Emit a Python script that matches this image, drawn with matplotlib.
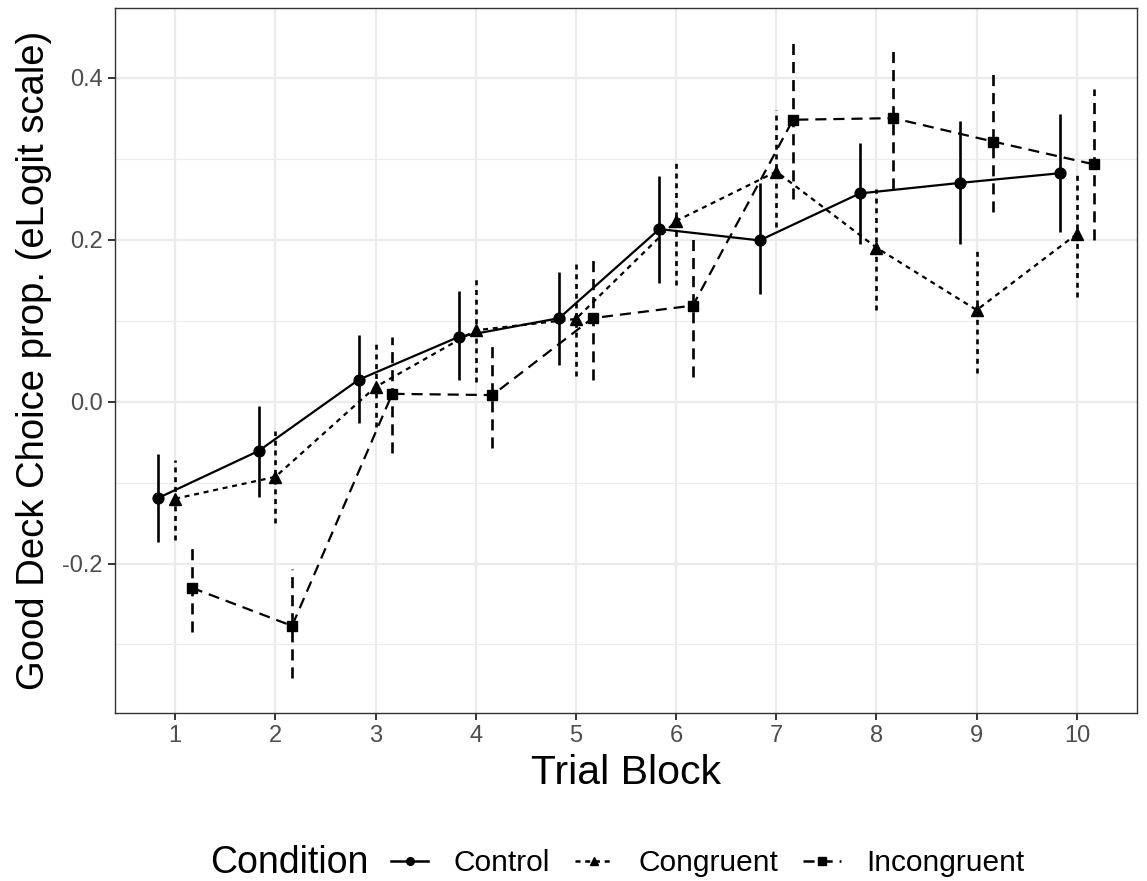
import matplotlib
matplotlib.use("Agg")
import matplotlib.pyplot as plt
from matplotlib.lines import Line2D
from matplotlib.ticker import FixedLocator, FuncFormatter
import numpy as np

plt.rcParams['font.family'] = ['Liberation Sans', 'DejaVu Sans']
plt.rcParams['lines.scale_dashes'] = False

# --- data ---
blocks = [1, 2, 3, 4, 5, 6, 7, 8, 9, 10]
conditions = ["Control", "Congruent", "Incongruent"]

control_mean = [-0.119, -0.061, 0.027, 0.080, 0.103, 0.213, 0.199, 0.257, 0.270, 0.282]
control_lo = [-0.174, -0.118, -0.026, 0.026, 0.045, 0.147, 0.133, 0.195, 0.194, 0.209]
control_hi = [-0.065, -0.005, 0.082, 0.136, 0.160, 0.279, 0.270, 0.319, 0.347, 0.355]

congruent_mean = [-0.120, -0.093, 0.018, 0.088, 0.102, 0.223, 0.284, 0.190, 0.113, 0.207]
congruent_lo = [-0.171, -0.150, -0.032, 0.024, 0.032, 0.144, 0.215, 0.113, 0.035, 0.129]
congruent_hi = [-0.072, -0.036, 0.072, 0.152, 0.173, 0.296, 0.360, 0.263, 0.189, 0.285]

incongruent_mean = [-0.230, -0.277, 0.0095, 0.008, 0.103, 0.1185, 0.348, 0.350, 0.321, 0.293]
incongruent_lo = [-0.284, -0.342, -0.063, -0.057, 0.027, 0.030, 0.250, 0.263, 0.234, 0.199]
incongruent_hi = [-0.176, -0.207, 0.080, 0.073, 0.178, 0.206, 0.446, 0.436, 0.407, 0.386]

y_ticks = [-0.2, 0.0, 0.2, 0.4]
y_minor = [-0.3, -0.1, 0.1, 0.3]

# --- styles ---
dodge = [-0.167, 0.0, 0.167]
markers = ['o', '^', 's']
msizes = [7.8, 8.5, 7]
dash_styles = ['-', (0, (3.6, 3.4)), (0, (8, 5))]

series = [
    (control_mean, control_lo, control_hi),
    (congruent_mean, congruent_lo, congruent_hi),
    (incongruent_mean, incongruent_lo, incongruent_hi),
]

fig = plt.figure(figsize=(11.47, 8.81), dpi=100)
ax = fig.add_axes([115 / 1147, 1 - 712.5 / 881, (1137 - 115) / 1147, (712.5 - 8) / 881])

x = np.array(blocks, dtype=float)
for k, (m, lo, hi) in enumerate(series):
    xs = x + dodge[k]
    ax.plot(xs, m, color='black', lw=1.6, linestyle=dash_styles[k], zorder=3)
    ax.vlines(xs, lo, hi, color='black', lw=1.9, linestyles=[dash_styles[k]], zorder=3)
    ax.plot(xs, m, linestyle='none', marker=markers[k], ms=msizes[k],
            color='black', zorder=4)

# --- axes formatting (theme_bw look) ---
ax.set_xlim(0.4, 10.6)
ax.set_ylim(-0.384, 0.486)
ax.set_xticks(blocks)
ax.set_xticklabels([str(b) for b in blocks])
ax.yaxis.set_major_locator(FixedLocator(y_ticks))
ax.yaxis.set_minor_locator(FixedLocator(y_minor))
ax.yaxis.set_major_formatter(FuncFormatter(lambda v, p: f"{v:.1f}".replace("\u2212", "-")))

ax.grid(True, which='major', color='#EBEBEB', lw=1.6, zorder=0)
ax.grid(True, which='minor', axis='y', color='#EBEBEB', lw=0.8, zorder=0)
ax.set_axisbelow(True)

for s in ax.spines.values():
    s.set_color('#333333')
    s.set_linewidth(1.0)

ax.tick_params(axis='both', which='major', length=5, width=1.4, color='#333333',
               labelsize=17, labelcolor='#4D4D4D', pad=4)
ax.tick_params(axis='y', which='minor', length=0)

ax.set_xlabel("Trial Block", fontsize=29.5, labelpad=5)
ax.set_ylabel("Good Deck Choice prop. (eLogit scale)", fontsize=27.5, labelpad=7)

# --- legend at the bottom ---
fig.text(210 / 1147, 1 - 863 / 881, "Condition", fontsize=27, ha='left', va='center')
handles = [Line2D([0], [0], color='black', lw=1.8, linestyle=dash_styles[k],
                  marker=markers[k], ms=5.5) for k in range(3)]
fig.legend(handles, conditions, loc='center left', bbox_to_anchor=(391 / 1147, 1 - 863 / 881),
           ncol=3, frameon=False, fontsize=21.5, handlelength=1.25, handletextpad=0.85,
           columnspacing=0.85, borderpad=0, borderaxespad=0)

fig.savefig("out.png", dpi=100)
